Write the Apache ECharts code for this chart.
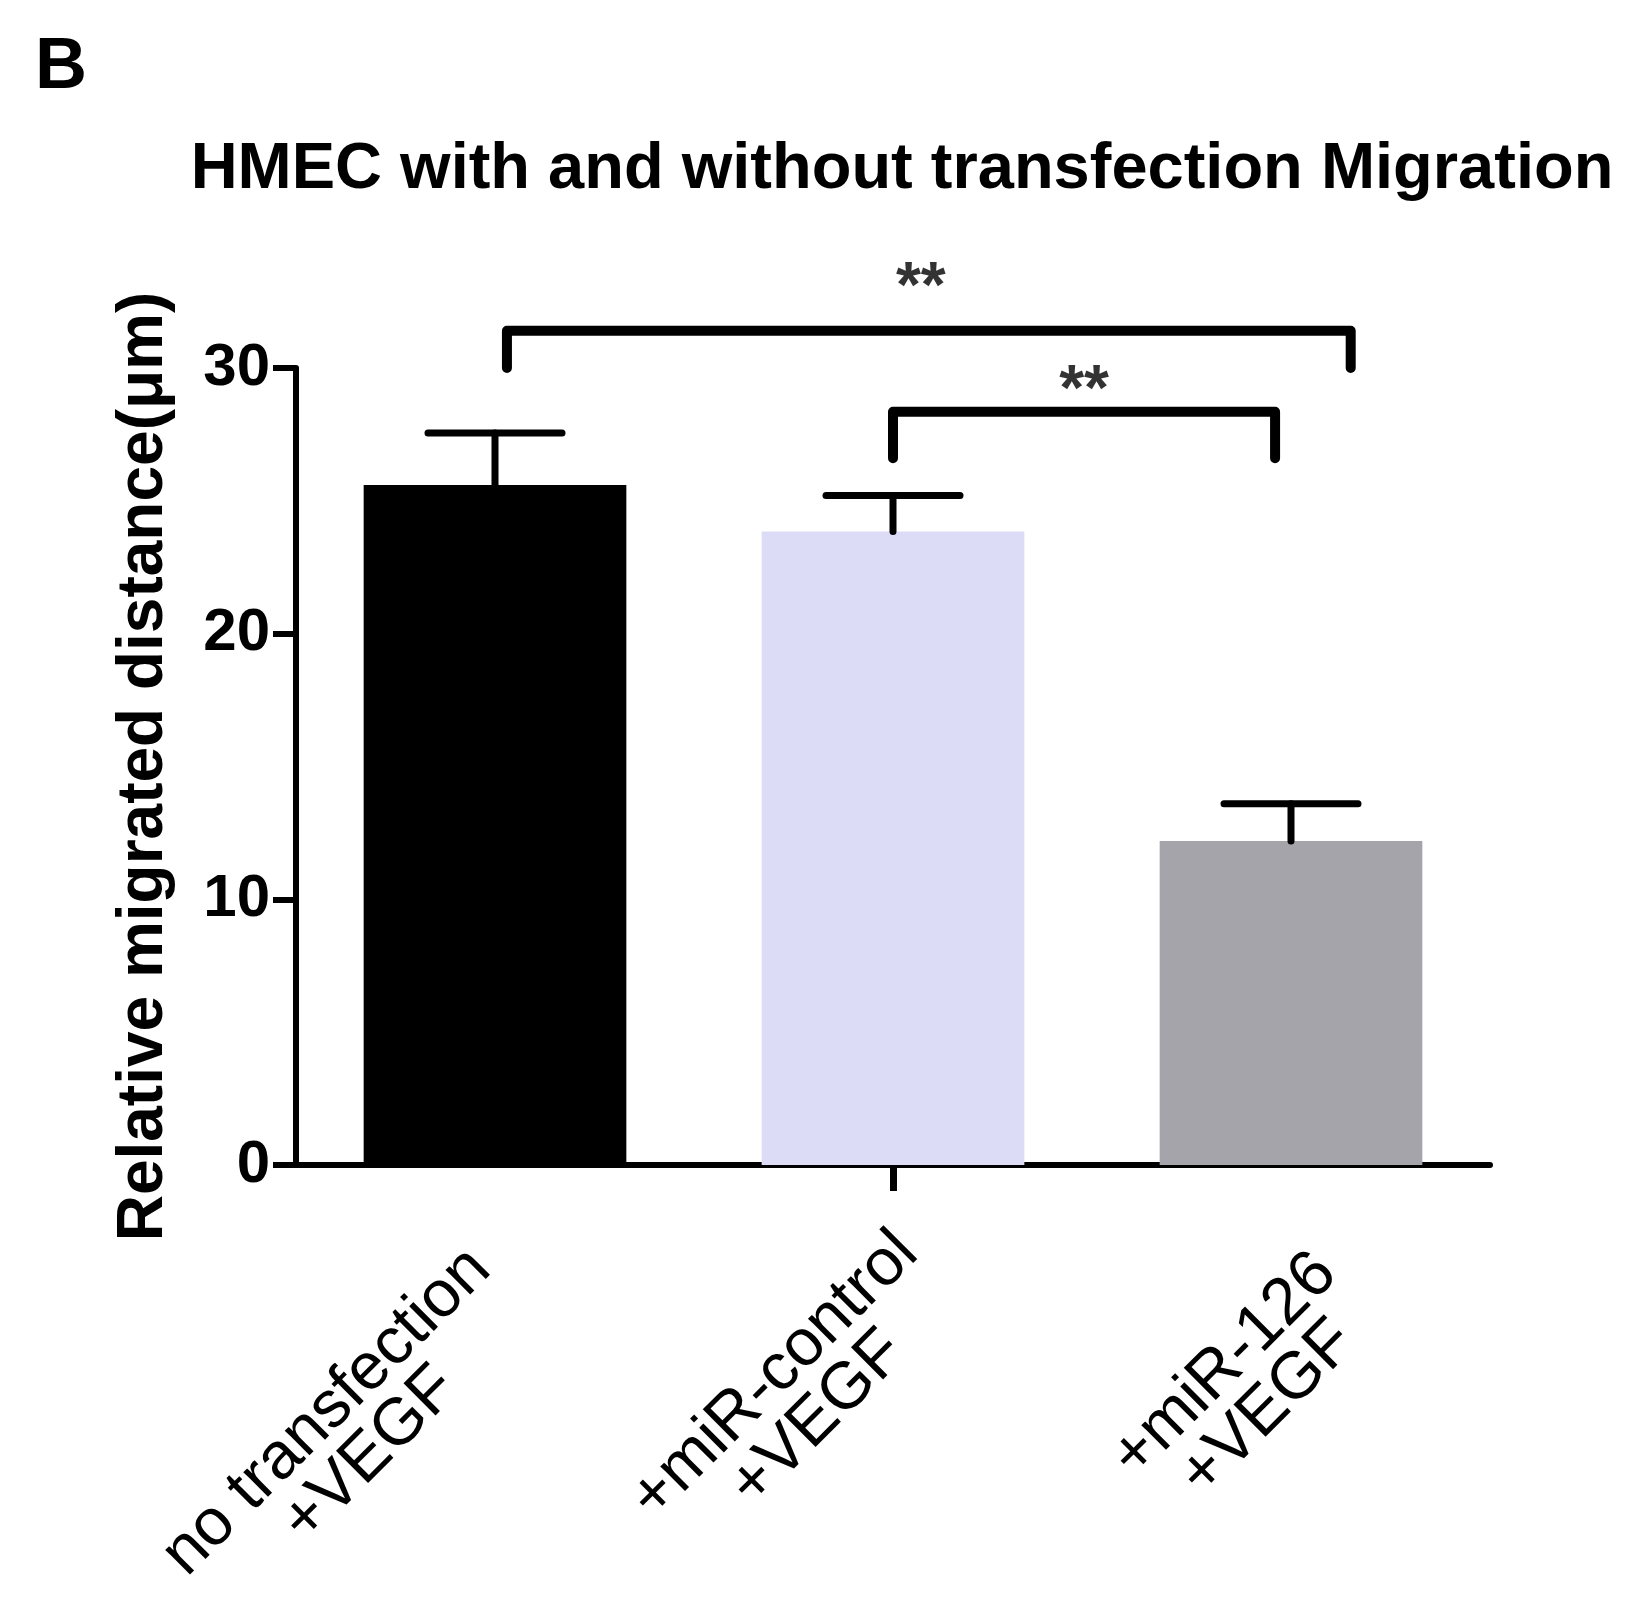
<!DOCTYPE html>
<html>
<head>
    <meta charset="utf-8">
    <script src="https://cdn.jsdelivr.net/npm/echarts@6/dist/echarts.min.js"></script>
    <style>
        html, body { margin: 0; padding: 0; background: #fff; }
    </style>
</head>
<body>
<div id="main" style="width: 1642px;height:1604px"></div>

<script type="text/javascript">
    // data
    var categories = ['no transfection\n+VEGF', '+miR-control\n+VEGF', '+miR-126\n+VEGF'];
    var means = [25.6, 23.85, 12.2];
    var errors = [1.95, 1.35, 1.4];
    var barColors = ['#000000', '#dddcf7', '#a5a4ab'];
    var yTicks = [0, 10, 20, 30];

    // significance brackets, x in category units (0..3), y in axis units
    var brackets = [
        [[0.53, 30.0], [0.53, 31.4], [2.65, 31.4], [2.65, 30.0]],
        [[1.50, 26.6], [1.50, 28.35], [2.46, 28.35], [2.46, 26.6]]
    ];
    var starMarks = [[1.57, 32.95], [1.98, 29.1]];

    var FONT = '"Liberation Sans", Arial, sans-serif';
    var LABEL_SIZE = 66;
    // per-label nudges for the slanted category labels (px)
    var labelPad = [85, 104, 163];
    var labelBack = [32, 0, 0];

    var chartDom = document.getElementById('main');
    var myChart = echarts.init(chartDom);
    var option;

    // width of the longest line of each label, so the two lines can be centred on each other
    var ctx = document.createElement('canvas').getContext('2d');
    ctx.font = LABEL_SIZE + 'px ' + FONT;
    var rich = {};
    categories.forEach(function (c, i) {
        var w = 0;
        c.split('\n').forEach(function (s) { w = Math.max(w, ctx.measureText(s).width); });
        rich['c' + i] = {
            width: Math.ceil(w) + 2 + 2 * labelBack[i],
            align: 'center',
            fontSize: LABEL_SIZE,
            fontFamily: FONT,
            color: '#000',
            lineHeight: 61
        };
    });

    var bracketSeries = brackets.map(function (b) {
        return {
            type: 'line',
            xAxisIndex: 1,
            data: b,
            symbol: 'none',
            clip: false,
            silent: true,
            lineStyle: { color: '#000', width: 10, cap: 'round', join: 'round' },
            z: 5
        };
    });

    option = {
        animation: false,
        backgroundColor: '#fff',
        title: [
            {
                text: 'B',
                left: 30,
                top: 27,
                textStyle: { fontFamily: FONT, fontWeight: 'bold', fontSize: 72, color: '#000' }
            },
            {
                text: 'HMEC with and without transfection Migration',
                left: 897,
                textAlign: 'center',
                top: 133,
                textStyle: { fontFamily: FONT, fontWeight: 'bold', fontSize: 65, color: '#000' }
            }
        ],
        grid: {
            left: 296, right: 152, top: 368, bottom: 439,
            containLabel: false,
            outerBoundsMode: 'none'
        },
        xAxis: [
            {
                type: 'category',
                data: categories.map(function (c, i) {
                    return { value: c, textStyle: { padding: [labelPad[i], 0, 0, 0] } };
                }),
                axisLine: { lineStyle: { color: '#000', width: 6 } },
                axisTick: {
                    show: true,
                    alignWithLabel: true,
                    length: 26,
                    lineStyle: { color: '#000', width: 7 },
                    interval: function (index) { return index === 1; }
                },
                axisLabel: {
                    interval: 0,
                    rotate: 45,
                    margin: 62,
                    formatter: function (v) {
                        var i = categories.indexOf(v);
                        return v.split('\n').map(function (s) {
                            return '{c' + i + '|' + s + '}';
                        }).join('\n');
                    },
                    rich: rich
                }
            },
            {
                type: 'value',
                min: 0,
                max: 3,
                show: false
            }
        ],
        yAxis: {
            type: 'value',
            min: 0,
            max: 30,
            interval: 10,
            name: 'Relative migrated distance(μm)',
            nameLocation: 'middle',
            nameGap: 120,
            nameTextStyle: { fontFamily: FONT, fontWeight: 'bold', fontSize: 64, color: '#000' },
            axisLine: { show: true, lineStyle: { color: '#000', width: 6 } },
            axisTick: { show: true, length: 23, lineStyle: { color: '#000', width: 6 } },
            axisLabel: {
                margin: 26,
                fontFamily: FONT,
                fontWeight: 'bold',
                fontSize: 60,
                color: '#000',
                formatter: function (v) { return yTicks.indexOf(v) >= 0 ? String(v) : ''; }
            },
            splitLine: { show: false }
        },
        series: [
            {
                type: 'bar',
                data: means.map(function (v, i) {
                    return { value: v, itemStyle: { color: barColors[i] } };
                }),
                barCategoryGap: '34%',
                z: 2
            },
            {
                type: 'custom',
                data: means.map(function (v, i) { return [i, v, v + errors[i]]; }),
                clip: false,
                z: 3,
                renderItem: function (params, api) {
                    var base = api.coord([api.value(0), api.value(1)]);
                    var top = api.coord([api.value(0), api.value(2)]);
                    var half = 67;
                    var style = { stroke: '#000', lineWidth: 7, lineCap: 'round' };
                    return {
                        type: 'group',
                        children: [
                            { type: 'line', shape: { x1: base[0], y1: base[1], x2: top[0], y2: top[1] }, style: style },
                            { type: 'line', shape: { x1: top[0] - half, y1: top[1], x2: top[0] + half, y2: top[1] }, style: style }
                        ]
                    };
                }
            }
        ].concat(bracketSeries).concat([
            {
                type: 'scatter',
                xAxisIndex: 1,
                data: starMarks,
                symbolSize: 0,
                clip: false,
                silent: true,
                label: {
                    show: true,
                    position: 'inside',
                    formatter: '**',
                    fontFamily: FONT,
                    fontWeight: 'bold',
                    fontSize: 64,
                    color: '#000',
                    textBorderWidth: 0
                }
            }
        ])
    };

    option && myChart.setOption(option);
</script>
</body>
</html>
